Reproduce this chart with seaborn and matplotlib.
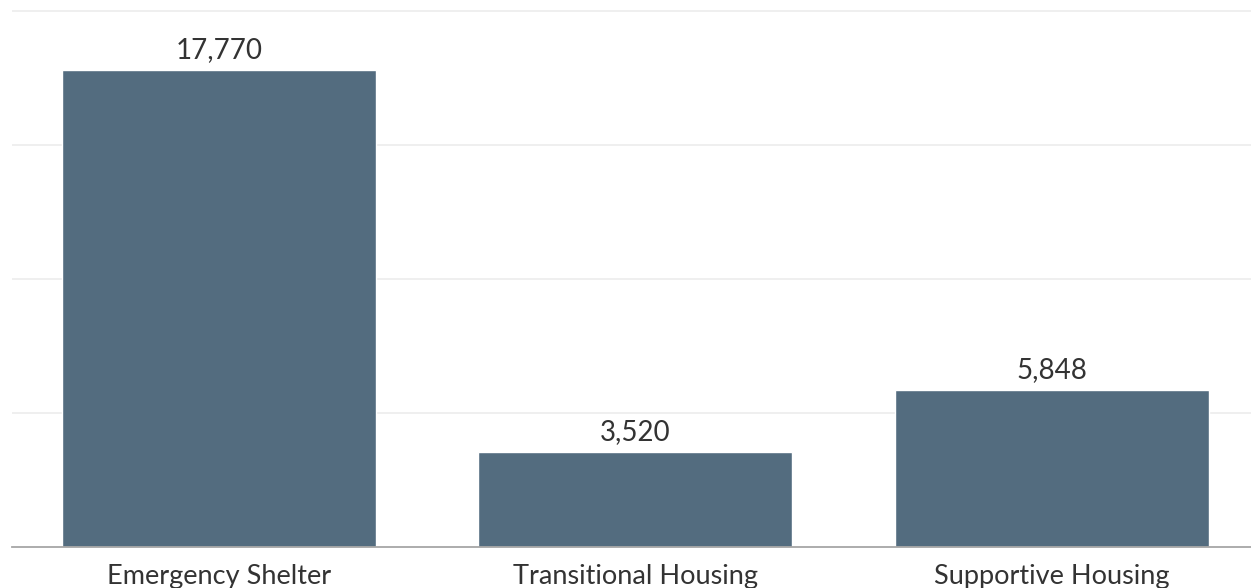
import matplotlib
matplotlib.use("Agg")
import matplotlib.pyplot as plt
import seaborn as sns
import pandas as pd
from matplotlib.ticker import FixedLocator

# Housing program counts
categories = ["Emergency Shelter", "Transitional Housing", "Supportive Housing"]
counts = [17770, 3520, 5848]
value_labels = ["17,770", "3,520", "5,848"]

sns.set_theme(style="white")
plt.rcParams["font.family"] = ["Lato", "DejaVu Sans"]

df = pd.DataFrame({"category": categories, "count": counts})

W, H = 1251, 588
fig = plt.figure(figsize=(W / 100, H / 100), dpi=100)

# axes placement in pixels
left_px, right_px = 12, 1251
base_px = 546.5
y_top = 20200
px_per_unit = (546.5 - 10.5) / 20000
top_px = base_px - y_top * px_per_unit
ax = fig.add_axes([left_px / W, (H - base_px) / H,
                   (right_px - left_px) / W, (base_px - top_px) / H])

bar_color = "#536c7f"
sns.barplot(data=df, x="category", y="count", color=bar_color,
            width=0.754, saturation=1, ax=ax, zorder=2)

ax.set_xlim(-0.497, 2.479)
ax.set_ylim(0, y_top)

# gridlines
ax.set_yticks([5000, 10000, 15000, 20000])
ax.yaxis.grid(True, color="#ececec", linewidth=1.2, zorder=0)
ax.set_axisbelow(True)
ax.tick_params(axis="y", left=False, labelleft=False)

for side in ["top", "right", "left"]:
    ax.spines[side].set_visible(False)
ax.spines["bottom"].set_color("#a6a6a6")
ax.spines["bottom"].set_linewidth(1.3)

ax.set_xlabel("")
ax.set_ylabel("")
ax.tick_params(axis="x", length=0, pad=12.5, labelsize=19.5, labelcolor="#333333")
ax.xaxis.set_minor_locator(FixedLocator([0.5, 1.5]))
ax.tick_params(axis="x", which="minor", length=7, width=1, color="#e6e6e6", direction="out")

for i, (v, lab) in enumerate(zip(counts, value_labels)):
    ax.annotate(lab, (i, v), xytext=(0, 5), textcoords="offset points",
                ha="center", va="bottom", fontsize=20, color="#333333")

fig.savefig("out.png", dpi=100)
